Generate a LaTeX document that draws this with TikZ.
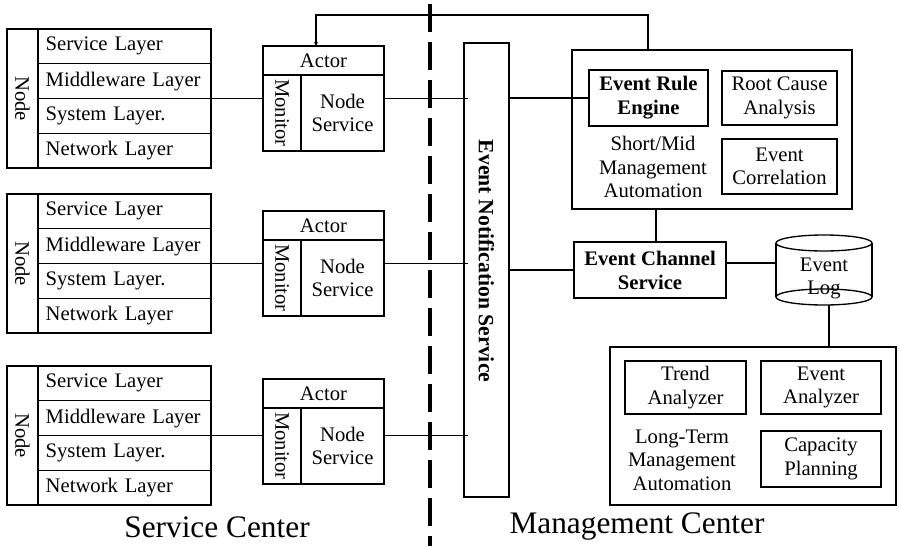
\documentclass[tikz,border=0pt]{standalone}
\usepackage{fontspec}
\setmainfont{Liberation Serif}
\usetikzlibrary{arrows.meta}
\begin{document}
\begin{tikzpicture}[x=0.75pt,y=-0.75pt,
  every node/.style={inner sep=0pt,outer sep=0pt,font=\fontsize{15.5}{17.5}\selectfont},
  thin/.style={line width=1pt},
  thick box/.style={draw,line width=2pt},
  boxed/.style={draw,line width=1pt},
  boldtxt/.style={font=\fontsize{15.5}{18}\selectfont\bfseries},
  layerbox/.style={draw,line width=1pt,anchor=north west,minimum height=26.06pt,
    text width=118.25pt,inner xsep=5.75pt,align=left},
  bigtxt/.style={font=\fontsize{23.5}{28}\selectfont}]
\fill[white] (0,0) rectangle (899,546);
\useasboundingbox (0,0) rectangle (899,546);

% separator
\coordinate (sepTop) at (430,4);
\coordinate (sepBot) at (430,546);
\draw[line width=2.6pt,dash pattern=on 21pt off 7.5pt] (sepTop) -- (sepBot);

% Event Notification Service
\node[thick box,minimum width=33.75pt,minimum height=340.5pt,anchor=north west] (ens) at (464,43) {};
\node[rotate=-90,font=\fontsize{16.3}{19}\selectfont\bfseries] (enst) at ([yshift=6.75pt]ens.center) {Event Notification Service};

% service center blocks
\foreach \i/\ny/\ay in {1/29/46,2/194/211,3/366/379}{
  \node[boxed,minimum width=23.25pt,minimum height=104.25pt,anchor=north west] (nc\i) at (7,\ny) {};
  \node[rotate=-90] (nt\i) at (nc\i.center) {Node};
  \node[layerbox] (s\i) at (38,\ny) {Service Layer};
  \node[layerbox] (m\i) at (s\i.south west) {Middleware Layer};
  \node[layerbox] (y\i) at (m\i.south west) {System Layer.};
  \node[layerbox] (w\i) at (y\i.south west) {Network Layer};
  \node[boxed,minimum width=90.75pt,minimum height=21.75pt,anchor=north west] (ah\i) at (263,\ay) {Actor};
  \node[boxed,minimum width=28.5pt,minimum height=57pt,anchor=north west] (mo\i) at (ah\i.south west) {};
  \node[rotate=-90] (mt\i) at (mo\i.center) {Monitor};
  \node[boxed,minimum width=62.25pt,minimum height=57pt,anchor=north west,align=center] (ns\i) at (mo\i.north east) {Node\\Service};
  \draw[thin] (m\i.south east) -- (m\i.south east -| mo\i.west);
  \draw[thin] (ns\i.east |- m\i.south east) -- ([xshift=3pt]ens.west |- m\i.south east);
}

% short/mid management
\node[boxed,minimum width=210pt,minimum height=119.25pt,anchor=north west] (mg1) at (572,50) {};
\node[thick box,minimum width=89.25pt,minimum height=42pt,anchor=north west,align=center,boldtxt] (ere) at (589,70) {Event Rule\\Engine};
\node[boxed,minimum width=86.25pt,minimum height=40.5pt,anchor=north west,align=center] (rca) at (722,71) {Root Cause\\Analysis};
\node[boxed,minimum width=86.25pt,minimum height=41.25pt,anchor=north west,align=center] (ec) at (722,139) {Event\\Correlation};
\node[align=center] (smt) at (653,167) {Short/Mid\\Management\\Automation};

% feedback line
\coordinate (fbA) at (648,15);
\draw[thin,-{Stealth[length=3pt,width=3pt]}] (mg1.north -| fbA) -- (fbA) -| ([xshift=-5.6pt]ah1.north);

% event channel service
\node[thick box,minimum width=114pt,minimum height=42pt,anchor=north west,align=center,boldtxt] (ecs) at (574,242) {Event Channel\\Service};

% event log cylinder
\node[minimum width=72pt,minimum height=52.5pt,anchor=north west] (log) at (776,235) {};
\draw[thin] ([yshift=-6pt]log.north) ellipse [x radius=48, y radius=8];
\draw[thin] ([yshift=6pt]log.south) ellipse [x radius=48, y radius=8];
\draw[thin] ([yshift=-6pt]log.north west) -- ([yshift=6pt]log.south west);
\draw[thin] ([yshift=-6pt]log.north east) -- ([yshift=6pt]log.south east);
\node[align=center] (logt) at ([yshift=-6.4pt]log.center) {Event\\Log};

% long-term management
\node[boxed,minimum width=214.5pt,minimum height=118.5pt,anchor=north west] (mg2) at (610,347) {};
\node[boxed,minimum width=90.75pt,minimum height=39.75pt,anchor=north west,align=center] (ta) at (625,361) {Trend\\Analyzer};
\node[boxed,minimum width=90pt,minimum height=39.75pt,anchor=north west,align=center] (ea) at (761,361) {Event\\Analyzer};
\node[boxed,minimum width=90pt,minimum height=42pt,anchor=north west,align=center] (cp) at (761,431) {Capacity\\Planning};
\node[align=center] (ltt) at (682,460) {Long-Term\\Management\\Automation};

% connectors
\draw[thin] (ens.east |- ere.west) -- (ere.west);
\draw[thin] (ens.east |- ecs.west) -- (ecs.west);
\draw[thin] ([xshift=4.5pt]ecs.north) -- ([xshift=4.5pt]ecs.north |- mg1.south);
\draw[thin] ([yshift=5.25pt]ecs.east) -- ([yshift=5.25pt]ecs.east -| log.west);
\draw[thin] ([xshift=3.75pt]log.south) -- ([xshift=3.75pt]log.south |- mg2.north);

% labels
\node[bigtxt] (sc) at (217,527) {Service Center};
\node[bigtxt] (mc) at (637,527) {Management Center};
\end{tikzpicture}
\end{document}
